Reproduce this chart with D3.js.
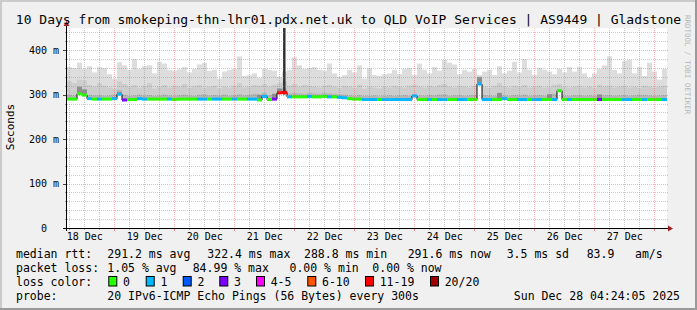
<!DOCTYPE html>
<html>
<head>
<meta charset="utf-8">
<script src="https://cdn.jsdelivr.net/npm/d3@7"></script>
<style>
  body { margin: 0; background: #fff; }
  text { font-family: "DejaVu Sans Mono", monospace; white-space: pre; }
</style>
</head>
<body>
<svg id="chart"></svg>
<script>
const width = 697;
const height = 310;

// time window of the graph, data in 2 hour buckets
const startTime = new Date("2025-12-18T05:05:00Z");
const endTime = new Date("2025-12-28T05:05:00Z");
const bucketHours = 2;

// median rtt per bucket (ms)
const medianRtt = [
  290,290,302,299,291,290,290,290,290,291,
  301,288,289,289,291,290,290,290,290,290,
  290,289,290,290,290,290,290,290,290,290,
  290,290,290,290,290,290,290,290,288,296,
  289,290,304,305,295,295,295,295,296,295,
  295,296,295,295,294,293,291,290,290,289,
  289,289,289,289,289,289,289,289,289,297,
  289,289,289,289,289,289,289,289,289,289,
  289,289,324,289,289,289,289,291,289,289,
  289,289,289,289,289,289,289,289,309,289,
  289,289,289,289,289,289,289,289,289,289,
  289,289,289,289,289,289,289,289,289,289
];

// lost pings (out of 20) per bucket
const lossCount = [
  0,0,0,0,1,0,1,0,0,1,
  1,3,0,0,1,1,0,0,0,0,
  1,0,0,0,0,0,1,1,0,1,
  1,0,0,1,0,0,1,1,0,1,
  0,3,17,17,1,0,0,0,1,0,
  0,0,1,0,1,1,0,0,0,1,
  1,1,0,1,1,1,1,1,1,1,
  0,0,1,0,1,1,0,0,1,1,
  0,0,1,1,1,0,0,1,0,0,
  1,1,0,1,1,0,0,1,0,0,
  1,0,0,0,0,0,3,0,0,0,
  0,1,1,0,0,1,0,0,0,1
];

// smoke: highest ping per bucket (ms)
const smokeTop = [
  362,360,372,358,364,350,362,360,346,336,
  373,366,356,380,358,364,366,348,374,370,
  356,354,357,362,350,358,368,372,354,356,
  336,352,356,358,386,342,344,348,338,358,
  356,354,340,352,356,384,366,358,360,362,
  356,354,370,348,340,344,356,350,366,336,
  360,344,342,346,348,356,346,358,360,344,
  370,356,348,362,354,378,372,368,346,356,
  352,358,344,352,356,344,364,348,354,374,
  350,380,356,344,360,356,352,346,358,350,
  362,352,362,348,338,348,358,366,386,356,
  348,376,378,348,362,342,372,352,334,358
];

// smoke: upper quartile-ish ping per bucket (ms)
const smokeMid = [
  330,326,334,332,322,318,326,320,316,314,
  330,324,318,322,316,320,326,314,318,322,
  316,320,318,324,316,320,322,316,318,320,
  314,318,316,320,326,316,318,322,320,324,
  318,322,326,330,320,324,318,322,320,318,
  316,320,322,318,316,320,318,316,322,314,
  318,316,314,318,316,320,318,316,320,322,
  318,316,320,318,322,324,318,316,320,318,
  316,320,334,318,316,320,326,318,316,320,
  318,322,316,318,320,316,318,322,324,318,
  316,318,320,316,318,316,322,318,320,316,
  318,320,316,318,316,320,318,316,318,320
];

// smoke: pings just above the median per bucket (ms)
const smokeLow = [
  300,298,314,310,300,298,299,297,298,300,
  310,300,297,298,300,298,299,297,298,300,
  298,297,299,300,298,297,300,301,298,299,
  298,300,297,299,301,298,300,302,298,304,
  299,300,312,314,303,304,303,302,304,303,
  302,304,303,302,301,300,298,297,299,297,
  297,298,296,297,298,297,298,299,297,302,
  298,297,299,298,300,301,297,298,299,297,
  298,299,330,299,298,297,303,298,297,299,
  298,300,297,298,299,297,300,302,312,297,
  297,298,299,297,298,297,301,298,299,297,
  298,299,297,298,300,299,298,297,298,299
];

// dense smoke right at the median (bucket index, top ms)
const smokeCore = [
  { bucket: 2, top: 318 }, { bucket: 3, top: 312 }, { bucket: 10, top: 306 },
  { bucket: 38, top: 300 }, { bucket: 41, top: 302 }, { bucket: 42, top: 314 },
  { bucket: 82, top: 340 }, { bucket: 86, top: 304 }, { bucket: 96, top: 301 },
  { bucket: 106, top: 300 }
];

// one hour of very slow pings during the big loss event
const spikes = [
  { time: "2025-12-21T19:30:00Z", hours: 1, lo: 300, hi: 470 }
];

const yTicks = [0, 100, 200, 300, 400];

const lossBins = [
  { label: "0", max: 0, color: "#26ff00" },
  { label: "1", max: 1, color: "#00b8ff" },
  { label: "2", max: 2, color: "#0059ff" },
  { label: "3", max: 3, color: "#7e00ff" },
  { label: "4-5", max: 5, color: "#ff00ff" },
  { label: "6-10", max: 10, color: "#ff5500" },
  { label: "11-19", max: 19, color: "#ff0000" },
  { label: "20/20", max: 20, color: "#a10000" }
];

const titleText = "10 Days from smokeping-thn-lhr01.pdx.net.uk to QLD VoIP Services | AS9449 | Gladstone";
const rttStats = ["median rtt:", "291.2 ms avg", "322.4 ms max", "288.8 ms min", "291.6 ms now", "3.5 ms sd", "83.9", "am/s"];
const lossStats = ["packet loss:", "1.05 % avg", "84.99 % max", "0.00 % min", "0.00 % now"];
const probeText = ["probe:", "20 IPv6-ICMP Echo Pings (56 Bytes) every 300s"];
const stampText = "Sun Dec 28 04:24:05 2025";

// layout
const plot = { left: 67, right: 667, top: 28, bottom: 228 };

const svg = d3.select("#chart")
    .attr("width", width)
    .attr("height", height)
    .attr("viewBox", [0, 0, width, height]);

const x = d3.scaleUtc().domain([startTime, endTime]).range([plot.left, plot.right]);
const y = d3.scaleLinear().domain([0, 450]).range([plot.bottom, plot.top]);

const bucketStart = i => d3.utcHour.offset(startTime, i * bucketHours);
const lossColor = n => lossBins.find(b => n <= b.max).color;

// frame
svg.append("rect").attr("width", width).attr("height", height).attr("fill", "#f0f0f0");
svg.append("path").attr("d", `M1,${height} V1 H${width}`).attr("stroke", "#cbcbcb").attr("stroke-width", 2).attr("fill", "none");
svg.append("path").attr("d", `M0,${height - 1} H${width - 1} V0`).attr("stroke", "#9a9a9a").attr("stroke-width", 2).attr("fill", "none");

svg.append("rect")
    .attr("x", plot.left).attr("y", plot.top)
    .attr("width", plot.right - plot.left).attr("height", plot.bottom - plot.top)
    .attr("fill", "#fff");

svg.append("clipPath").attr("id", "clip")
  .append("rect")
    .attr("x", plot.left).attr("y", plot.top)
    .attr("width", plot.right - plot.left).attr("height", plot.bottom - plot.top);

const g = svg.append("g").attr("clip-path", "url(#clip)");

// smoke layers, lightest first
const layers = [
  { values: smokeTop, color: "#dddddd" },
  { values: smokeMid, color: "#cdcdcd" },
  { values: smokeLow, color: "#b6b6b6" }
];
layers.forEach(layer => {
  g.append("g").selectAll("rect")
    .data(layer.values)
    .join("rect")
      .attr("x", (d, i) => x(bucketStart(i)))
      .attr("width", (d, i) => x(bucketStart(i + 1)) - x(bucketStart(i)))
      .attr("y", d => y(d))
      .attr("height", (d, i) => Math.max(0, y(medianRtt[i]) - y(d)))
      .attr("fill", layer.color);
});

g.append("g").selectAll("rect")
  .data(smokeCore)
  .join("rect")
    .attr("x", d => x(bucketStart(d.bucket)))
    .attr("width", d => x(bucketStart(d.bucket + 1)) - x(bucketStart(d.bucket)))
    .attr("y", d => y(d.top))
    .attr("height", d => y(medianRtt[d.bucket]) - y(d.top))
    .attr("fill", "#8e8e8e");

g.append("g").selectAll("rect")
  .data(spikes)
  .join("rect")
    .attr("x", d => x(new Date(d.time)))
    .attr("width", d => x(d3.utcHour.offset(new Date(d.time), d.hours)) - x(new Date(d.time)))
    .attr("y", d => y(d.hi))
    .attr("height", d => y(d.lo) - y(d.hi))
    .attr("fill", "#333");

// grid
const minorTimes = d3.utcHour.every(6).range(startTime, endTime).filter(t => t.getUTCHours() !== 0);
const majorTimes = d3.utcDay.range(startTime, endTime);
const minorValues = d3.range(20, 450, 20).filter(v => v % 100 !== 0);
const majorValues = yTicks.filter(v => v > 0);

const minorStroke = "rgba(140,140,140,0.45)";
const majorStroke = "rgba(255,70,70,0.42)";

const grid = svg.append("g").attr("fill", "none").attr("stroke-dasharray", "1,1");
grid.selectAll(".vmin").data(minorTimes).join("line")
    .attr("x1", d => Math.round(x(d)) + 0.5).attr("x2", d => Math.round(x(d)) + 0.5)
    .attr("y1", plot.top).attr("y2", plot.bottom)
    .attr("stroke", minorStroke);
grid.selectAll(".hmin").data(minorValues).join("line")
    .attr("x1", plot.left).attr("x2", plot.right + 1)
    .attr("y1", d => Math.round(y(d)) + 0.5).attr("y2", d => Math.round(y(d)) + 0.5)
    .attr("stroke", minorStroke);
grid.selectAll(".vmaj").data(majorTimes).join("line")
    .attr("x1", d => Math.round(x(d)) + 0.5).attr("x2", d => Math.round(x(d)) + 0.5)
    .attr("y1", plot.top).attr("y2", plot.bottom)
    .attr("stroke", majorStroke);
grid.selectAll(".hmaj").data(majorValues).join("line")
    .attr("x1", plot.left).attr("x2", plot.right + 1)
    .attr("y1", d => Math.round(y(d)) + 0.5).attr("y2", d => Math.round(y(d)) + 0.5)
    .attr("stroke", majorStroke);

// median line: thin black step line, then loss coloured segments
const medianPoints = medianRtt.map((v, i) => [bucketStart(i), v]);
medianPoints.push([bucketStart(medianRtt.length), medianRtt[medianRtt.length - 1]]);
g.append("path")
    .datum(medianPoints)
    .attr("fill", "none")
    .attr("stroke", "#000")
    .attr("stroke-width", 1)
    .attr("d", d3.line().x(d => x(d[0])).y(d => y(d[1])).curve(d3.curveStepAfter));

g.append("g").selectAll("rect")
  .data(medianRtt)
  .join("rect")
    .attr("x", (d, i) => x(bucketStart(i)))
    .attr("width", (d, i) => x(bucketStart(i + 1)) - x(bucketStart(i)))
    .attr("y", d => y(d) - 1.5)
    .attr("height", 3)
    .attr("fill", (d, i) => lossColor(lossCount[i]));

// axes
const xAxis = d3.axisBottom(x)
    .tickValues(d3.utcDay.range(d3.utcDay.floor(startTime), endTime)
      .map(d => d3.utcHour.offset(d, 12)).filter(d => d < endTime))
    .tickFormat(d3.utcFormat("%d %b"))
    .tickSize(0).tickPadding(5);
svg.append("g")
    .attr("transform", `translate(0,${plot.bottom})`)
    .call(xAxis)
    .call(a => a.select(".domain").remove())
    .call(a => a.selectAll("text").attr("font-family", "DejaVu Sans Mono").attr("font-size", 10).attr("fill", "#000"));

const yAxis = d3.axisLeft(y)
    .tickValues(yTicks)
    .tickFormat(d => d === 0 ? "0  " : d + " m")
    .tickSize(0).tickPadding(8);
svg.append("g")
    .attr("transform", `translate(${plot.left},0)`)
    .call(yAxis)
    .call(a => a.select(".domain").remove())
    .call(a => a.selectAll("text").attr("font-family", "DejaVu Sans Mono").attr("font-size", 10).attr("fill", "#000"));

// axis lines, ticks and arrows
const axes = svg.append("g");
axes.selectAll(".ytick").data(yTicks).join("line")
    .attr("x1", plot.left - 4).attr("x2", plot.left)
    .attr("y1", d => Math.round(y(d)) + 0.5).attr("y2", d => Math.round(y(d)) + 0.5)
    .attr("stroke", "#444");
axes.selectAll(".ymtick").data(minorValues).join("line")
    .attr("x1", plot.left - 2).attr("x2", plot.left)
    .attr("y1", d => Math.round(y(d)) + 0.5).attr("y2", d => Math.round(y(d)) + 0.5)
    .attr("stroke", "#999");
axes.selectAll(".xtick").data(majorTimes).join("line")
    .attr("x1", d => Math.round(x(d)) + 0.5).attr("x2", d => Math.round(x(d)) + 0.5)
    .attr("y1", plot.bottom).attr("y2", plot.bottom + 3)
    .attr("stroke", "rgba(255,70,70,0.6)");
axes.selectAll(".xmtick").data(minorTimes).join("line")
    .attr("x1", d => Math.round(x(d)) + 0.5).attr("x2", d => Math.round(x(d)) + 0.5)
    .attr("y1", plot.bottom).attr("y2", plot.bottom + 2)
    .attr("stroke", "#aaa");
axes.append("line")
    .attr("x1", plot.left - 4).attr("x2", plot.right + 2)
    .attr("y1", plot.bottom + 0.5).attr("y2", plot.bottom + 0.5)
    .attr("stroke", "#000");
axes.append("line")
    .attr("x1", plot.left - 0.5).attr("x2", plot.left - 0.5)
    .attr("y1", plot.bottom + 3).attr("y2", plot.top - 3)
    .attr("stroke", "#000");
axes.append("path")
    .attr("d", `M${plot.right + 1},${plot.bottom - 2.5} L${plot.right + 6},${plot.bottom + 0.5} L${plot.right + 1},${plot.bottom + 3.5} Z`)
    .attr("fill", "#a02020");
axes.append("path")
    .attr("d", `M${plot.left - 3.5},${plot.top - 2} L${plot.left - 0.5},${plot.top - 7} L${plot.left + 2.5},${plot.top - 2} Z`)
    .attr("fill", "#a02020");

// titles
svg.append("text")
    .attr("x", width / 2).attr("y", 23.5)
    .attr("text-anchor", "middle")
    .attr("font-size", 13)
    .text(titleText);

svg.append("text")
    .attr("transform", "translate(14,127) rotate(-90)")
    .attr("text-anchor", "middle")
    .attr("font-size", 11)
    .text("Seconds");

svg.append("text")
    .attr("transform", "translate(684.5,15) rotate(90)")
    .attr("font-size", 7.5)
    .attr("fill", "#b8b8b8")
    .text("RRDTOOL / TOBI OETIKER");

// legend
const legendFont = 11.5;
const rowY = [258.3, 272.3, 286.3, 300];
const rttX = [16, 107.3, 207.3, 304, 407.7, 506.7, 586.7, 635];
const lossX = [16, 107.3, 192.7, 289.5, 372.3];
const probeX = [16, 107.3];

const legend = svg.append("g").attr("font-size", legendFont).attr("fill", "#000");
legend.selectAll(".rtt").data(rttStats).join("text")
    .attr("x", (d, i) => rttX[i]).attr("y", rowY[0]).text(d => d);
legend.selectAll(".loss").data(lossStats).join("text")
    .attr("x", (d, i) => lossX[i]).attr("y", rowY[1]).text(d => d);
legend.append("text").attr("x", 16).attr("y", rowY[2]).text("loss color:");
legend.selectAll(".probe").data(probeText).join("text")
    .attr("x", (d, i) => probeX[i]).attr("y", rowY[3]).text(d => d);
legend.append("text").attr("x", 680).attr("y", rowY[3]).attr("text-anchor", "end").text(stampText);

const swatchX = [108.3, 145.7, 182.7, 219.3, 256, 307.3, 365, 430];
const sw = legend.selectAll(".sw").data(lossBins).join("g")
    .attr("transform", (d, i) => `translate(${swatchX[i]},0)`);
sw.append("rect")
    .attr("x", 0.5).attr("y", 276.5).attr("width", 8).attr("height", 9.5)
    .attr("fill", d => d.color).attr("stroke", "#000");
sw.append("text")
    .attr("x", 14.7).attr("y", rowY[2]).text(d => d.label);
</script>
</body>
</html>
